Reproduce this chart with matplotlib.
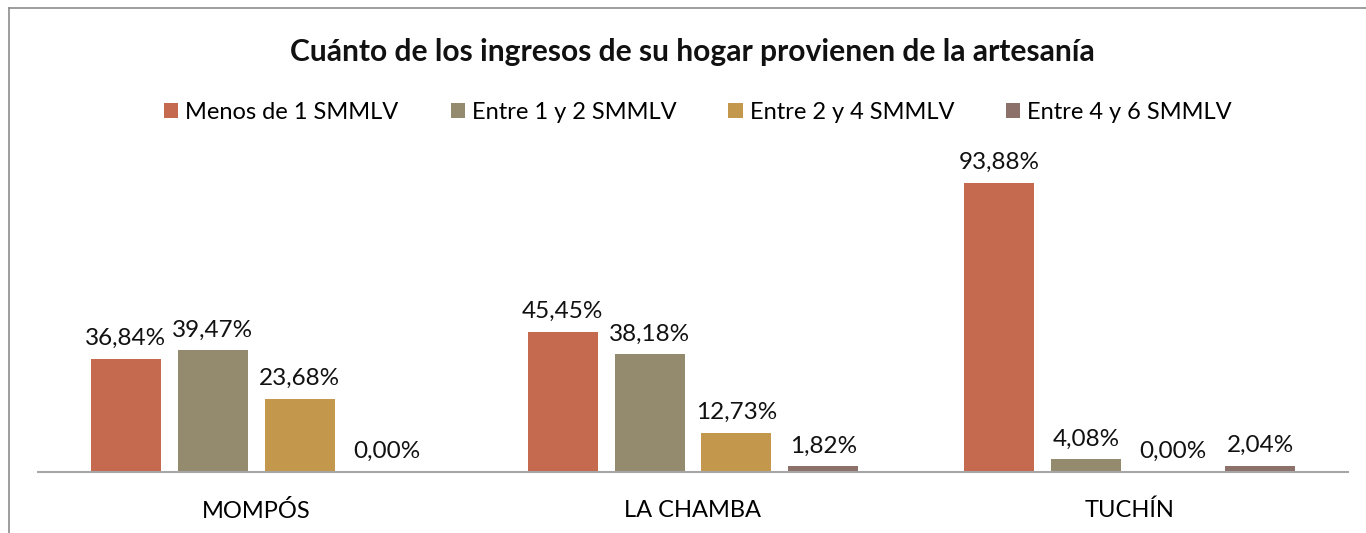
import matplotlib.pyplot as plt
from matplotlib.patches import Patch
from matplotlib.lines import Line2D
import numpy as np

plt.rcParams["font.family"] = ["Lato", "DejaVu Sans"]

# data
categories = ["MOMPÓS", "LA CHAMBA", "TUCHÍN"]
series = ["Menos de 1 SMMLV", "Entre 1 y 2 SMMLV", "Entre 2 y 4 SMMLV", "Entre 4 y 6 SMMLV"]
values = [
    [36.84, 45.45, 93.88],   # Menos de 1
    [39.47, 38.18, 4.08],    # Entre 1 y 2
    [23.68, 12.73, 0.00],    # Entre 2 y 4
    [0.00, 1.82, 2.04],      # Entre 4 y 6
]
colors = ["#C5694F", "#948A6E", "#C3984D", "#8C716B"]

fig = plt.figure(figsize=(13.66, 5.33), dpi=100)
ax = fig.add_axes([38 / 1366, 61 / 533, 1310 / 1366, 308 / 533])

x = np.arange(len(categories)) + 0.5
width = 0.1603
step = 0.1992
for i, (name, vals) in enumerate(zip(series, values)):
    pos = x + (i - 1.5) * step
    bars = ax.bar(pos, vals, width, color=colors[i], label=name)
    for b, v in zip(bars, vals):
        ax.annotate(f"{v:.2f}%".replace(".", ","), (b.get_x() + b.get_width() / 2, v),
                    xytext=(0, 7), textcoords="offset points",
                    ha="center", va="bottom", fontsize=17.5, color="#111111")

ax.set_xlim(0, 3)
ax.set_ylim(0, 100)
ax.set_xticks(x)
ax.set_xticklabels(categories, fontsize=17)
ax.tick_params(axis="x", length=0, pad=20)
ax.set_yticks([])
for s in ["top", "right", "left"]:
    ax.spines[s].set_visible(False)
ax.spines["bottom"].set_color("#A6A6A6")
ax.spines["bottom"].set_linewidth(1.5)

fig.text(0.5066, 0.903, "Cuánto de los ingresos de su hogar provienen de la artesanía",
         ha="center", va="center", fontsize=21.6, fontweight="bold", color="#111111")

handles = [Patch(facecolor=c, edgecolor="none") for c in colors]
fig.legend(handles, series, loc="center", bbox_to_anchor=(0.511, 0.789), ncol=4,
           frameon=False, fontsize=17, handlelength=0.6, handleheight=0.6,
           handletextpad=0.3, columnspacing=2.2)

# outer chart border (cropped)
fig.add_artist(Line2D([9 / 1366, 9 / 1366], [0, 1 - 8 / 533], color="#8C8C8C", lw=1.2))
fig.add_artist(Line2D([9 / 1366, 1], [1 - 8 / 533, 1 - 8 / 533], color="#8C8C8C", lw=1.2))

plt.savefig("out.png", dpi=100)
